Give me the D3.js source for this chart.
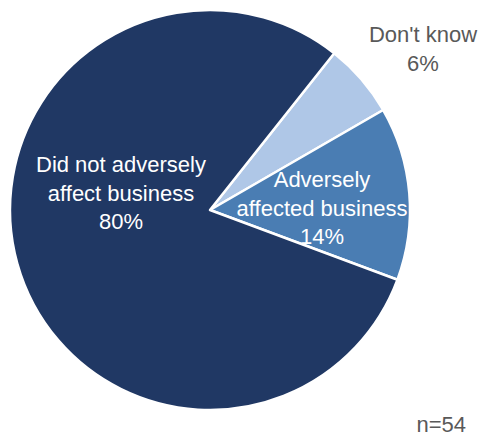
<!DOCTYPE html>
<html>
<head>
<meta charset="utf-8">
<script src="https://cdn.jsdelivr.net/npm/d3@7"></script>
<style>
  html, body { margin: 0; padding: 0; background: #fff; }
  svg { display: block; }
</style>
</head>
<body>
<svg id="chart" width="481" height="438"></svg>
<script>
// Survey responses (n=54), in drawing order clockwise
const categories = ["Don't know", "Adversely affected business", "Did not adversely affect business"];
const values = [6, 14, 80];
const labelLines = [["Don't know", "6%"], ["Adversely", "affected business", "14%"], ["Did not adversely", "affect business", "80%"]];
const colors = ["#afc7e7", "#4a7db3", "#203864"];
const sampleNote = "n=54";

const svg = d3.select("#chart");
const cx = 210, cy = 210, radius = 200;
const startDeg = 38.4;

const pie = d3.pie().sort(null).value(d => d)
  .startAngle(startDeg * Math.PI / 180)
  .endAngle((startDeg + 360) * Math.PI / 180);
const arcs = pie(values);
const arc = d3.arc().innerRadius(0).outerRadius(radius);

const g = svg.append("g").attr("transform", `translate(${cx},${cy})`);
g.selectAll("path").data(arcs).join("path")
  .attr("d", arc)
  .attr("fill", (d, i) => colors[i])
  .attr("stroke", "#fff")
  .attr("stroke-width", 2.5)
  .attr("stroke-linejoin", "round");

// Label anchors: [x, first baseline] in chart coordinates
const labelPos = [[423, 42], [322, 187], [121, 172]];
const labelColor = ["#595959", "#ffffff", "#ffffff"];
const lineGap = 28.5;
const fontSize = 22;

labelLines.forEach((lines, i) => {
  const t = svg.append("text")
    .attr("x", labelPos[i][0]).attr("y", labelPos[i][1])
    .attr("text-anchor", "middle")
    .attr("font-family", "'Liberation Sans', Arial, sans-serif")
    .attr("font-size", fontSize)
    .attr("fill", labelColor[i]);
  lines.forEach((s, j) => {
    t.append("tspan").attr("x", labelPos[i][0]).attr("dy", j === 0 ? 0 : lineGap).text(s);
  });
});

svg.append("text")
  .attr("x", 466).attr("y", 432)
  .attr("text-anchor", "end")
  .attr("font-family", "'Liberation Sans', Arial, sans-serif")
  .attr("font-size", fontSize)
  .attr("fill", "#595959")
  .text(sampleNote);
</script>
</body>
</html>
